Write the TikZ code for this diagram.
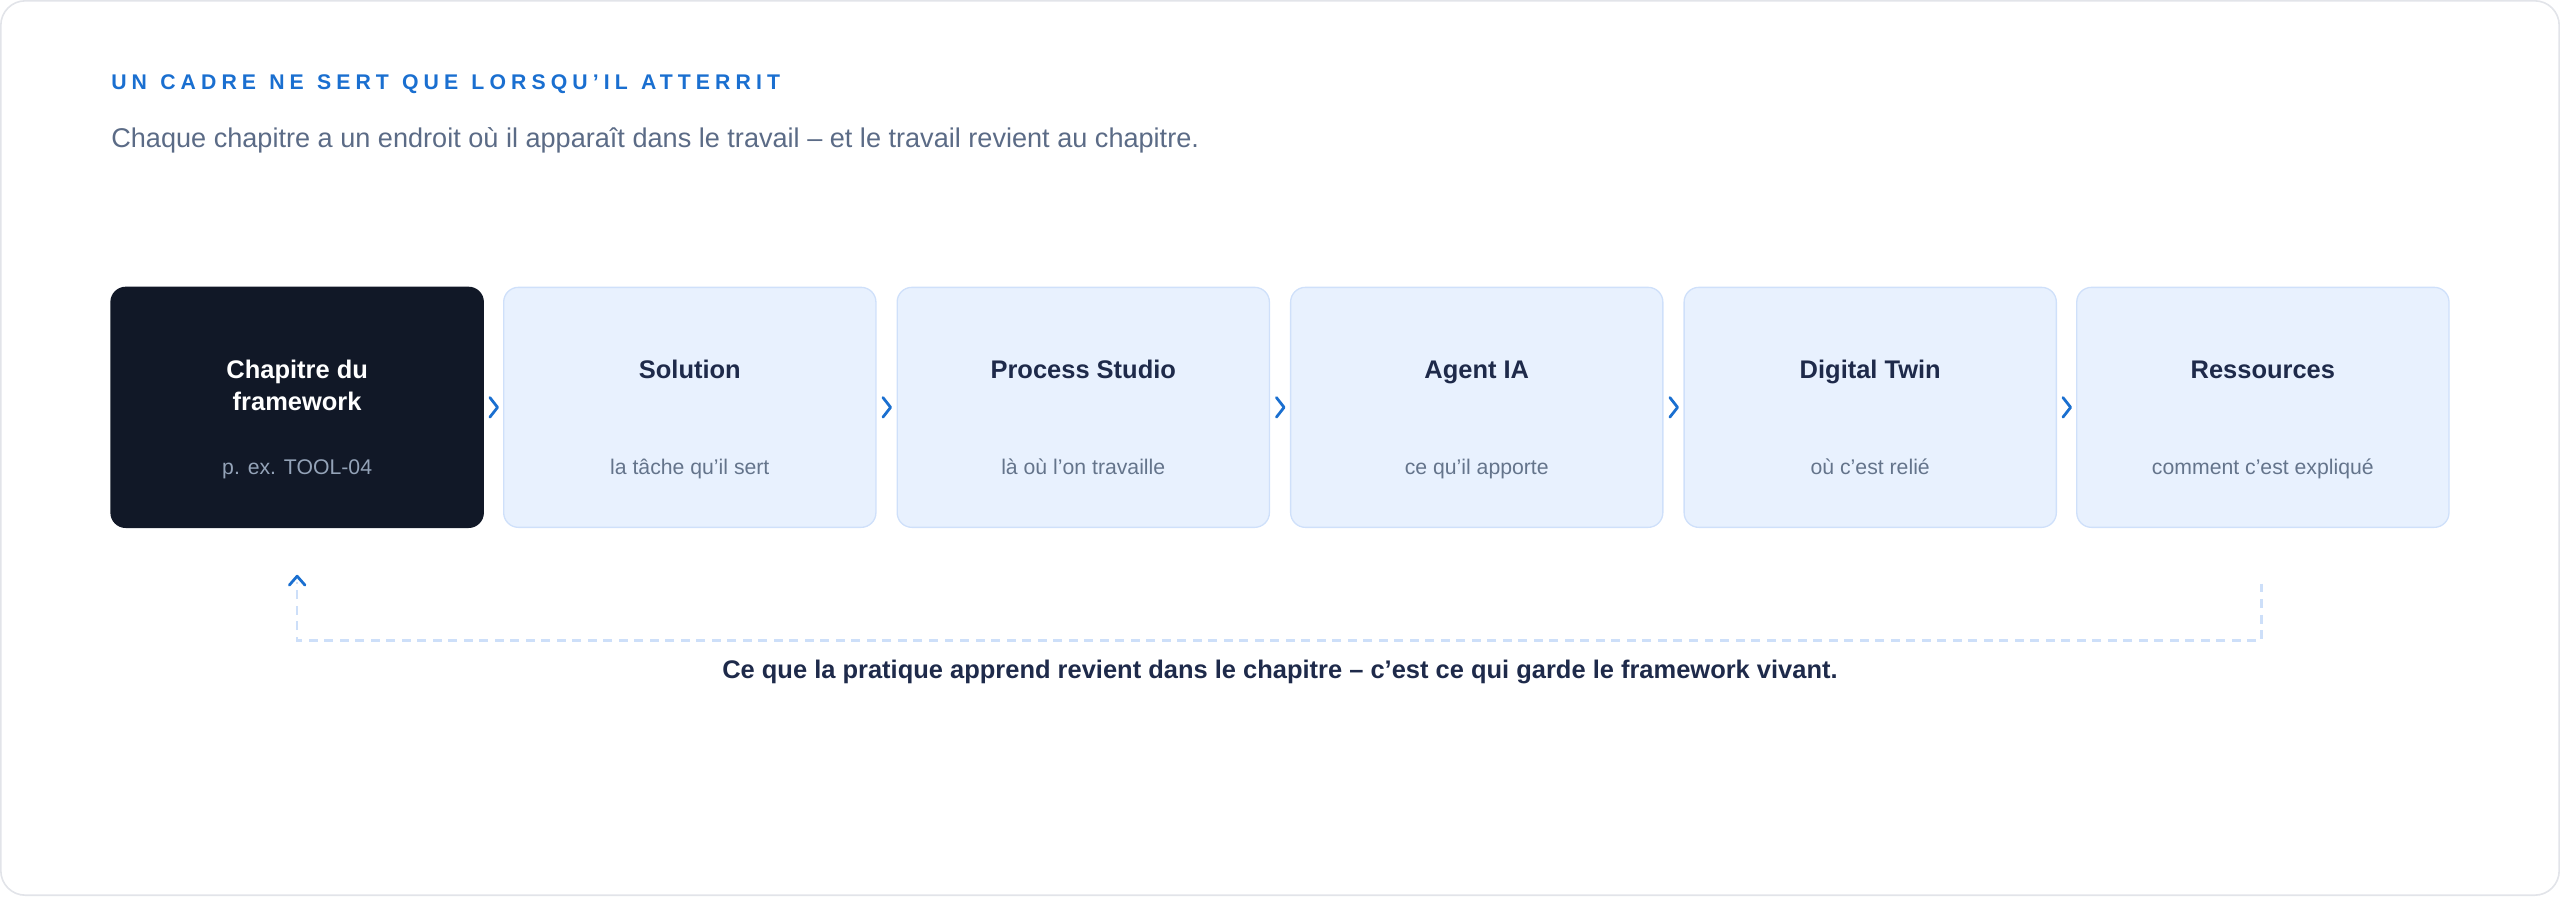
\documentclass[tikz,border=0pt]{standalone}
\usepackage{fontspec}
\setmainfont{Liberation Sans}
\newfontfamily\trackfont[LetterSpace=24,WordSpace=1.2]{Liberation Sans}
\usetikzlibrary{calc}
\definecolor{accent}{HTML}{1A6FD0}
\definecolor{framec}{HTML}{E2E4E9}
\definecolor{darkfill}{HTML}{111827}
\definecolor{lightfill}{HTML}{E8F1FE}
\definecolor{lightline}{HTML}{CFE0FA}
\definecolor{navy}{HTML}{1E2A4A}
\definecolor{subgray}{HTML}{5B6B86}
\definecolor{boxgray}{HTML}{64748B}
\definecolor{darksub}{HTML}{94A3B8}
\definecolor{dashc}{HTML}{CDDFF9}
\begin{document}
\begin{tikzpicture}[x=1pt,y=-1pt,
  stepbox/.style={rectangle, rounded corners=9, minimum width=228, minimum height=147, inner sep=0, line width=0.8},
  darkbox/.style={stepbox, fill=darkfill, draw=darkfill},
  lightbox/.style={stepbox, fill=lightfill, draw=lightline},
  boxtitle/.style={font=\fontsize{15.6}{20}\selectfont\bfseries, align=center, inner sep=0, text height=0.72em, text depth=0pt},
  boxsub/.style={font=\fontsize{13}{16}\selectfont, inner sep=0, text height=0.72em, text depth=0pt},
  chev/.style={draw=accent, line width=1.7, line cap=round, line join=round},
  loopline/.style={draw=dashc, line width=1.6, dash pattern=on 5.5 off 4},
]
\useasboundingbox (0,0) rectangle (1568,548.8);
\draw[framec, line width=1, rounded corners=15] (0.5,0.5) rectangle (1567.5,548.3);

\node[anchor=west, inner sep=0, text=accent, font=\fontsize{13}{16}\selectfont\bfseries\trackfont, text height=0.72em, text depth=0pt] (head) at (68,51.5) {UN CADRE NE SERT QUE LORSQU’IL ATTERRIT};
\node[anchor=west, inner sep=0, text=subgray, font=\fontsize{16.6}{20}\selectfont, text height=0.72em, text depth=0pt] (lead) at (68,87) {Chaque chapitre a un endroit où il apparaît dans le travail – et le travail revient au chapitre.};

\node[darkbox] (b1) at (182,249.5) {};
\node[lightbox] (b2) at (422.5,249.5) {};
\node[lightbox] (b3) at (663.5,249.5) {};
\node[lightbox] (b4) at (904.5,249.5) {};
\node[lightbox] (b5) at (1145.5,249.5) {};
\node[lightbox] (b6) at (1386,249.5) {};

\node[boxtitle, text=white] (t1) at ($(b1.center)+(0,-1.5)$) {Chapitre du\\framework};
\node[boxsub, text=darksub] (s1) at ($(b1.center)+(0,37.5)$) {p. ex. TOOL-04};
\node[boxtitle, text=navy] (t2) at ($(b2.center)+(0,-21.5)$) {Solution};
\node[boxsub, text=boxgray] (s2) at ($(b2.center)+(0,37.5)$) {la tâche qu’il sert};
\node[boxtitle, text=navy] (t3) at ($(b3.center)+(0,-21.5)$) {Process Studio};
\node[boxsub, text=boxgray] (s3) at ($(b3.center)+(0,37.5)$) {là où l’on travaille};
\node[boxtitle, text=navy] (t4) at ($(b4.center)+(0,-21.5)$) {Agent IA};
\node[boxsub, text=boxgray] (s4) at ($(b4.center)+(0,37.5)$) {ce qu’il apporte};
\node[boxtitle, text=navy] (t5) at ($(b5.center)+(0,-21.5)$) {Digital Twin};
\node[boxsub, text=boxgray] (s5) at ($(b5.center)+(0,37.5)$) {où c’est relié};
\node[boxtitle, text=navy] (t6) at ($(b6.center)+(0,-21.5)$) {Ressources};
\node[boxsub, text=boxgray] (s6) at ($(b6.center)+(0,37.5)$) {comment c’est expliqué};

\foreach \a/\b in {b1/b2,b2/b3,b3/b4,b4/b5,b5/b6}{
  \coordinate (m) at ($(\a.east)!0.5!(\b.west)$);
  \draw[chev] ($(m)+(-2.2,-6)$) -- ($(m)+(2.5,0)$) -- ($(m)+(-2.2,6)$);
}

\coordinate (loopstart) at ($(b6.south)+(-1,34)$);
\coordinate (loopcorner) at ($(b6.south)+(-1,69)$);
\coordinate (loopleft) at ($(b1.south)+(0,69)$);
\coordinate (loopend) at ($(b1.south)+(0,33)$);
\coordinate (tip) at ($(b1.south)+(0,29.5)$);
\draw[loopline] (loopstart) -- (loopcorner) -- (loopleft) -- (loopend);
\draw[chev] ($(tip)+(-4.8,5.5)$) -- (tip) -- ($(tip)+(4.8,5.5)$);

\node[inner sep=0, text=navy, font=\fontsize{15.6}{19}\selectfont\bfseries, text height=0.72em, text depth=0pt] (note) at (784,412) {Ce que la pratique apprend revient dans le chapitre – c’est ce qui garde le framework vivant.};
\end{tikzpicture}
\end{document}
